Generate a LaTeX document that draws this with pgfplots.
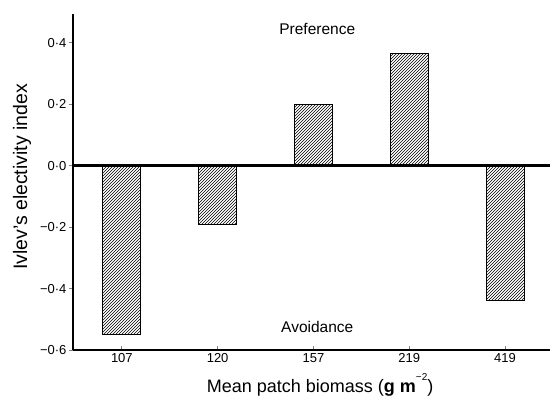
\documentclass[border=0pt]{standalone}
\usepackage{fontspec}
\setmainfont{Liberation Sans}
\usepackage{pgfplots}
\pgfplotsset{compat=1.18}
\usetikzlibrary{patterns}
\begin{document}
\begin{tikzpicture}
\useasboundingbox (-73pt,-49pt) rectangle (477pt,350pt);
\begin{axis}[
  at={(0,0)}, anchor=south west,
  scale only axis,
  width=477pt, height=336pt,
  enlargelimits=false,
  xmin=-0.51, xmax=4.47,
  ymin=-0.6, ymax=0.494,
  axis x line*=bottom, axis y line*=left,
  axis line style={line width=1.5pt},
  xtick={0,1,2,3,4},
  xticklabels={107,120,157,219,419},
  ytick={-0.6,-0.4,-0.2,0,0.2,0.4},
  yticklabels={−0·6,−0·4,−0·2,0·0,0·2,0·4},
  tick align=inside,
  major tick length=4pt,
  ytick style={xshift=-4pt, line width=0.8pt},
  xtick style={line width=0.8pt},
  tick label style={font=\fontsize{13}{15}\selectfont},
  yticklabel style={xshift=-3pt},
  xlabel={Mean patch biomass (\textbf{g m}\raisebox{0.62em}{\fontsize{10}{10}\selectfont −2})},
  ylabel={Ivlev’s electivity index},
  xlabel style={font=\fontsize{18}{21}\selectfont, at={(axis description cs:0.518,-0.104)}, anchor=center},
  ylabel style={font=\fontsize{19.5}{22}\selectfont, at={(axis description cs:-0.107,0.515)}, anchor=center, rotate=0},
  clip=false,
]
\addplot[ybar, bar width=0.396, draw=black, line width=0.8pt, pattern=north east lines]
  coordinates {(0,-0.55) (1,-0.19) (2,0.2) (3,0.365) (4,-0.44)};
\addplot[black, line width=3pt, no marks] coordinates {(-0.51,0) (4.47,0)};
\draw[black, line width=1.5pt] (axis description cs:0,0) -- (axis description cs:0,1);
\node[font=\fontsize{15.5}{18}\selectfont] at (axis cs:2.04,0.445) {Preference};
\node[font=\fontsize{15.5}{18}\selectfont] at (axis cs:2.04,-0.525) {Avoidance};
\end{axis}
\end{tikzpicture}
\end{document}
